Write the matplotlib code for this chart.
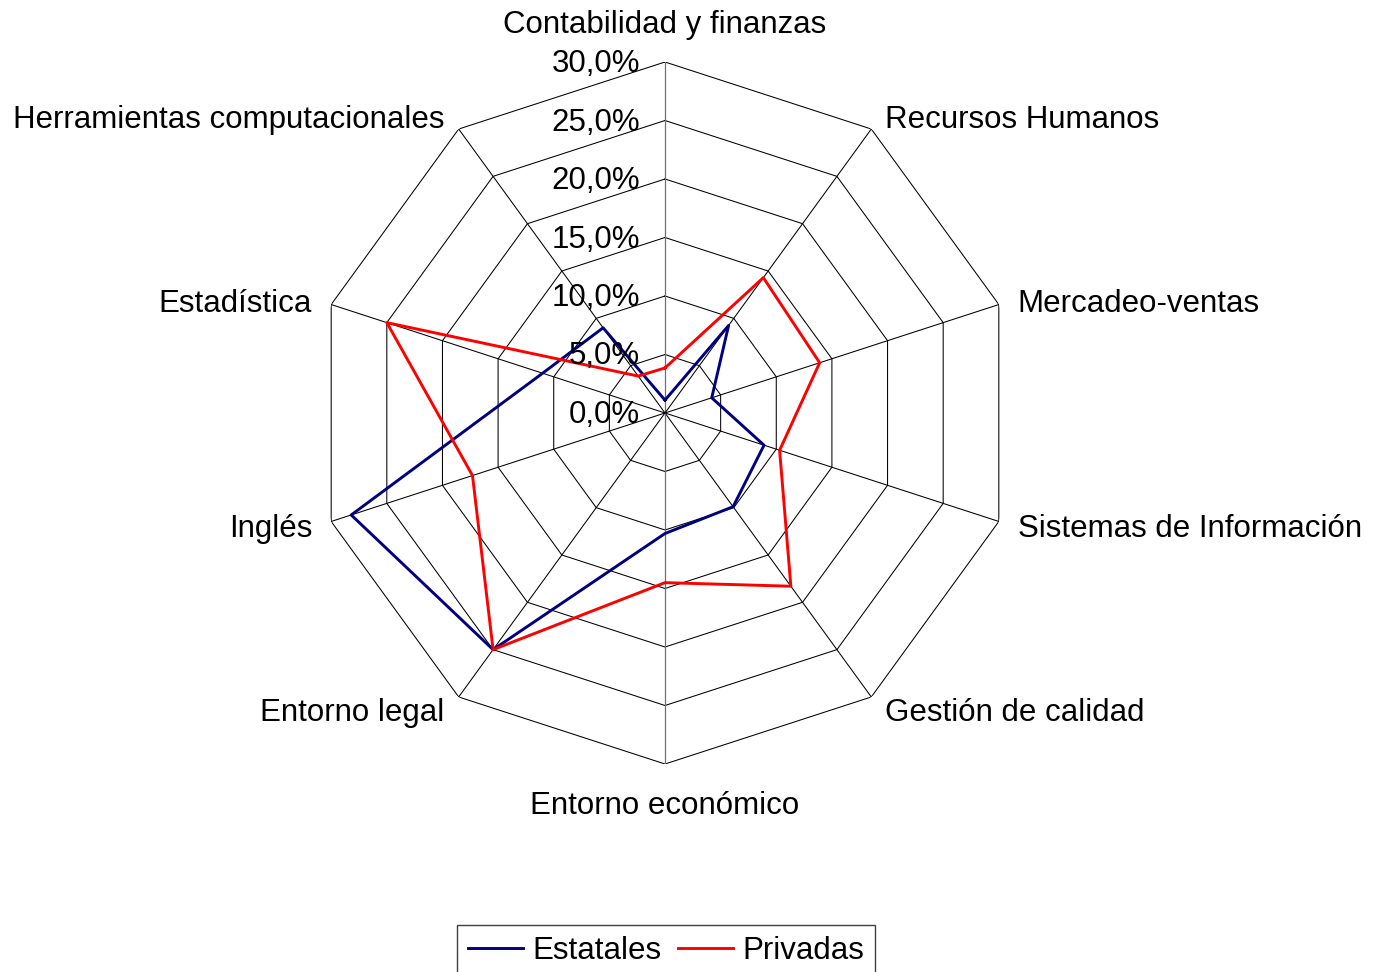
import numpy as np
import matplotlib
matplotlib.use("Agg")
import matplotlib.pyplot as plt
from matplotlib.transforms import offset_copy

plt.rcParams['font.family'] = ['Liberation Sans', 'DejaVu Sans']

categories = ["Contabilidad y finanzas", "Recursos Humanos", "Mercadeo-ventas",
              "Sistemas de Información", "Gestión de calidad", "Entorno económico",
              "Entorno legal", "Inglés", "Estadística", "Herramientas computacionales"]
estatales = [1.1, 9.25, 4.2, 8.9, 9.9, 10.3, 25.0, 28.2, 11.0, 9.0]
privadas = [3.85, 14.3, 13.9, 10.3, 18.3, 14.5, 25.0, 17.3, 25.0, 3.9]
rticks = [0, 5, 10, 15, 20, 25, 30]
rtick_labels = ["0,0%", "5,0%", "10,0%", "15,0%", "20,0%", "25,0%", "30,0%"]
series_names = ["Estatales", "Privadas"]

FS = 22.5
W, H, DPI = 1373, 972, 100
fig = plt.figure(figsize=(W / DPI, H / DPI), dpi=DPI)
cx, cy, R = 665, 413, 351
ax = fig.add_axes([(cx - R) / W, (H - cy - R) / H, 2 * R / W, 2 * R / H], projection='polar')
ax.set_theta_zero_location('N')
ax.set_theta_direction(-1)
ax.set_ylim(0, 30)
ax.grid(False)
ax.spines['polar'].set_visible(False)
ax.set_xticks([])
ax.set_yticks([])
ax.patch.set_alpha(0)

n = len(categories)
angles = np.arange(n) * 2 * np.pi / n
closed = np.append(angles, angles[0])

# polygon grid
for r in rticks[1:]:
    ax.plot(closed, [r] * (n + 1), color='black', lw=0.75, zorder=1)
for a in angles:
    col = '#707070' if np.isclose(a, 0) or np.isclose(a, np.pi) else 'black'
    ax.plot([a, a], [0, rticks[-1]], color=col, lw=0.9 if col != 'black' else 0.75, zorder=1)

# data
ax.plot(closed, estatales + estatales[:1], color='#000080', lw=2.1, label=series_names[0], zorder=3)
ax.plot(closed, privadas + privadas[:1], color='#FF0000', lw=2.1, label=series_names[1], zorder=3)

# radial tick labels
tr = offset_copy(ax.transData, fig=fig, x=-25, y=-2, units='dots')
for r, lab in zip(rticks, rtick_labels):
    ax.text(0, r, lab, transform=tr, ha='right', va='center', fontsize=FS, zorder=4)

# category labels
offsets = [(0, 37, 'center'), (14, 9, 'left'), (19, 1, 'left'), (19, -8, 'left'),
           (14, -16, 'left'), (0, -42, 'center'), (-14, -16, 'right'), (-19, -8, 'right'),
           (-19, 1, 'right'), (-14, 9, 'right')]
for a, lab, (dx, dy, ha) in zip(angles, categories, offsets):
    t = offset_copy(ax.transData, fig=fig, x=dx, y=dy, units='dots')
    ax.text(a, rticks[-1], lab, transform=t, ha=ha, va='center', fontsize=FS)

leg = fig.legend(loc='upper center', bbox_to_anchor=(666 / W, (H - 925) / H), ncol=2,
                 fontsize=FS, frameon=True, fancybox=False, edgecolor='#404040',
                 framealpha=1, handlelength=1.75, handletextpad=0.3, columnspacing=0.55,
                 borderpad=0.35, borderaxespad=0)
leg.get_frame().set_linewidth(1.0)

fig.savefig('out.png', dpi=DPI)
